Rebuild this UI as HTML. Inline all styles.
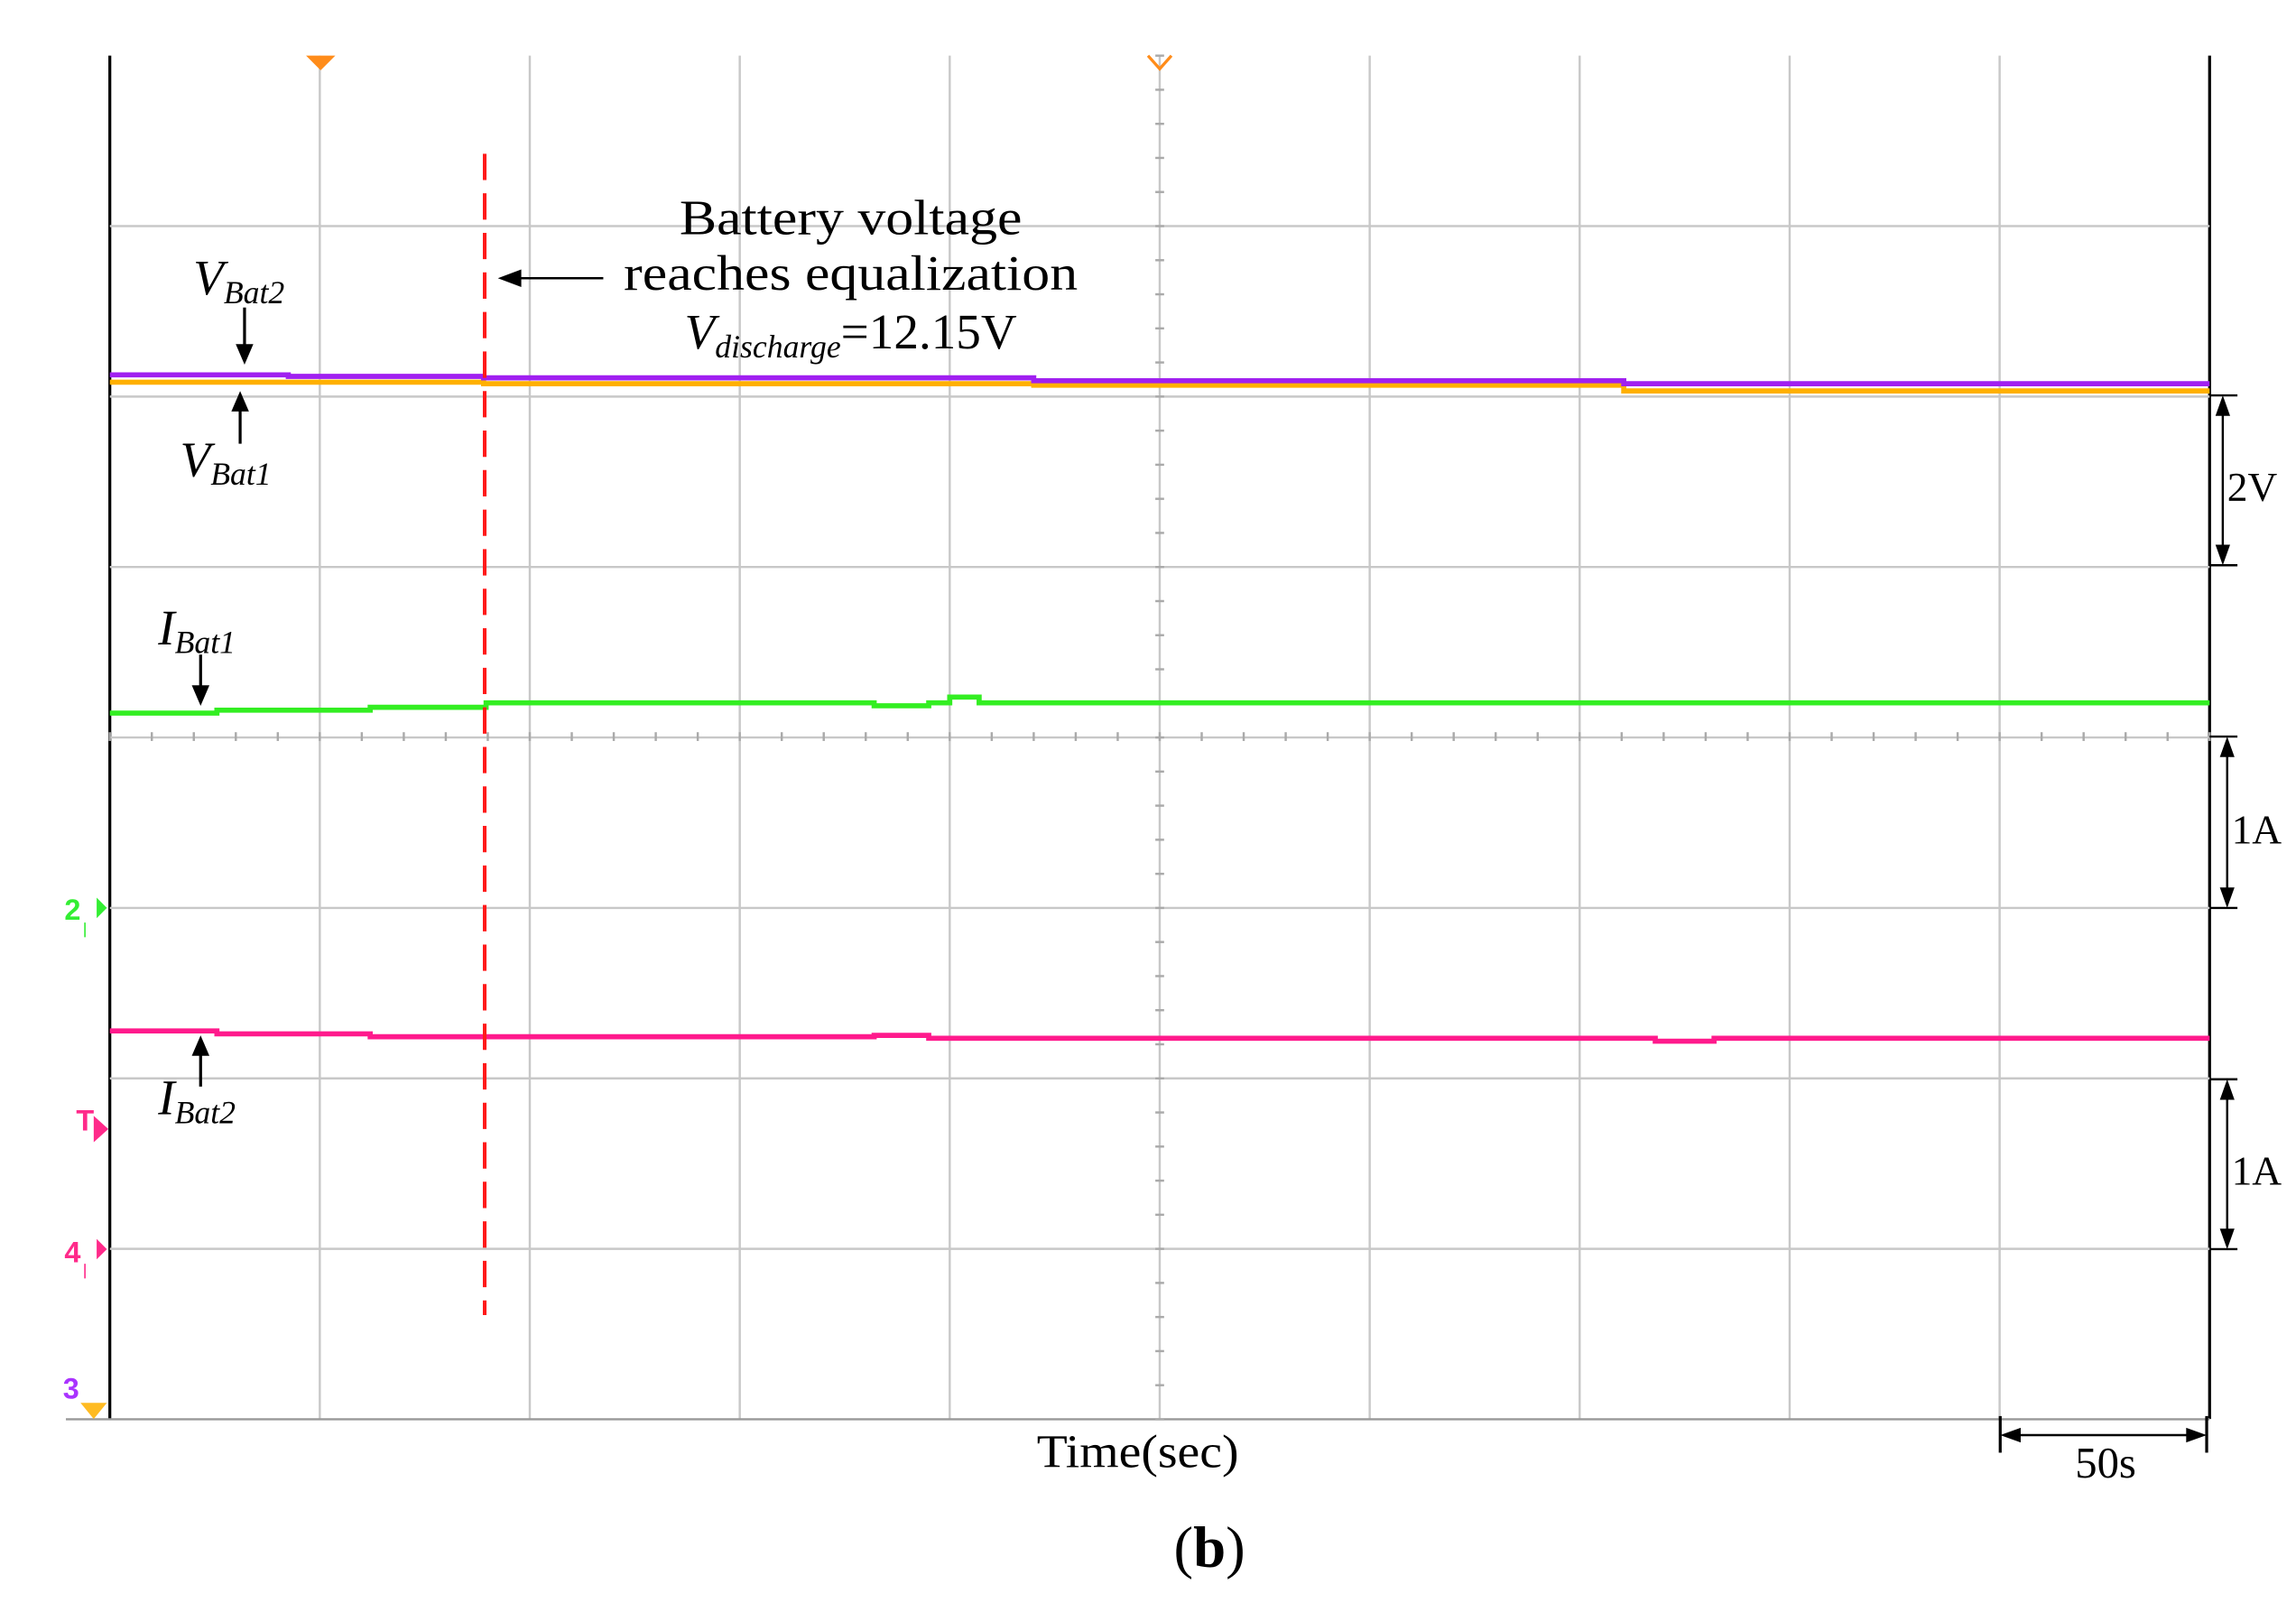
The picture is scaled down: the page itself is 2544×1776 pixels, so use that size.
<!DOCTYPE html>
<html><head><meta charset="utf-8"><style>
html,body{margin:0;padding:0;background:#fff}
svg{display:block;font-family:"Liberation Serif",serif}
</style></head><body>
<svg id="chart" width="2544" height="1776" viewBox="0 0 1568 1094.65" preserveAspectRatio="none" xmlns="http://www.w3.org/2000/svg">
<g id="grid"></g>
<g id="traces"></g>
<line x1="331" y1="105" x2="331" y2="898" stroke="#ff1a1a" stroke-width="2.5" stroke-dasharray="18,9"/>
<g font-size="34" text-anchor="middle" fill="#000">
<text x="581" y="160" textLength="234" lengthAdjust="spacingAndGlyphs">Battery voltage</text>
<text x="581" y="198" textLength="310" lengthAdjust="spacingAndGlyphs">reaches equalization</text>
<text x="581" y="238"><tspan font-style="italic">V</tspan><tspan font-style="italic" font-size="22" dy="6">discharge</tspan><tspan dy="-6">=12.15V</tspan></text>
<line x1="412" y1="190" x2="352" y2="190" stroke="#000" stroke-width="1.5"/>
<polygon points="340,190 356,184 356,196" fill="#000"/>
</g>
<g font-style="italic" fill="#000">
<text x="132" y="201" font-size="34">V<tspan font-size="22" dy="6">Bat2</tspan></text>
<line x1="167" y1="210" x2="167" y2="238" stroke="#000" stroke-width="2"/><polygon points="167,249 161,235 173,235"/>
<text x="123" y="325" font-size="34">V<tspan font-size="22" dy="6">Bat1</tspan></text>
<line x1="164" y1="303" x2="164" y2="278" stroke="#000" stroke-width="2"/><polygon points="164,267 158,281 170,281"/>
<text x="108" y="440" font-size="34">I<tspan font-size="22" dy="6">Bat1</tspan></text>
<line x1="137" y1="447" x2="137" y2="471" stroke="#000" stroke-width="2"/><polygon points="137,482 131,468 143,468"/>
<text x="108" y="761" font-size="34">I<tspan font-size="22" dy="6">Bat2</tspan></text>
<line x1="137" y1="742" x2="137" y2="718" stroke="#000" stroke-width="2"/><polygon points="137,707 131,721 143,721"/>
</g>
<g fill="#000" font-size="28">
<line x1="1509" y1="270" x2="1528" y2="270" stroke="#000" stroke-width="1.5"/><line x1="1509" y1="386" x2="1528" y2="386" stroke="#000" stroke-width="1.5"/>
<line x1="1518" y1="278" x2="1518" y2="378" stroke="#000" stroke-width="1.5"/><polygon points="1518,270 1513,284 1523,284"/><polygon points="1518,386 1513,372 1523,372"/>
<text x="1521" y="342">2V</text>
<line x1="1509" y1="503" x2="1528" y2="503" stroke="#000" stroke-width="1.5"/><line x1="1509" y1="620" x2="1528" y2="620" stroke="#000" stroke-width="1.5"/>
<line x1="1521" y1="511" x2="1521" y2="612" stroke="#000" stroke-width="1.5"/><polygon points="1521,503 1516,517 1526,517"/><polygon points="1521,620 1516,606 1526,606"/>
<text x="1524" y="576">1A</text>
<line x1="1509" y1="737" x2="1528" y2="737" stroke="#000" stroke-width="1.5"/><line x1="1509" y1="853" x2="1528" y2="853" stroke="#000" stroke-width="1.5"/>
<line x1="1521" y1="745" x2="1521" y2="845" stroke="#000" stroke-width="1.5"/><polygon points="1521,737 1516,751 1526,751"/><polygon points="1521,853 1516,839 1526,839"/>
<text x="1524" y="809">1A</text>
<line x1="1366" y1="967" x2="1366" y2="992" stroke="#000" stroke-width="2"/><line x1="1507" y1="967" x2="1507" y2="992" stroke="#000" stroke-width="2"/>
<line x1="1374" y1="980" x2="1499" y2="980" stroke="#000" stroke-width="1.5"/><polygon points="1366,980 1380,975 1380,985"/><polygon points="1507,980 1493,975 1493,985"/>
<text x="1438" y="1009" text-anchor="middle" font-size="30">50s</text>
</g>
<text x="777" y="1002" text-anchor="middle" font-size="32" textLength="138" lengthAdjust="spacingAndGlyphs">Time(sec)</text>
<text x="826" y="1070" text-anchor="middle" font-size="40">(<tspan font-weight="bold">b</tspan>)</text>
<g font-family="Liberation Sans,sans-serif" font-weight="bold" font-size="20">
<polygon points="209,38 229,38 219,48" fill="#ff8c1a"/>
<polyline points="784,38 792,47 800,38" fill="none" stroke="#ff8c1a" stroke-width="2"/>
<text x="44" y="628" fill="#33ee33">2</text><polygon points="66,613 73,620 66,627" fill="#33ee33"/><line x1="58" y1="630" x2="58" y2="640" stroke="#33ee33"/>
<text x="52" y="772" fill="#ff2a8a">T</text><polygon points="64,762 74,771 64,780" fill="#ff2a8a"/>
<text x="44" y="862" fill="#ff2a8a">4</text><polygon points="66,846 73,853 66,860" fill="#ff2a8a"/><line x1="58" y1="863" x2="58" y2="873" stroke="#ff2a8a"/>
<text x="43" y="955" fill="#aa33ff">3</text><polygon points="55,958 73,958 64,969" fill="#ffbb22"/>
</g>
</svg>
<script>
const timeTicks=[0,50,100,150,200,250,300,350,400,450,500];
const vBat2T=[0,42.5,89,220,360.5,500];
const vBat2V=[12.241,12.223,12.206,12.172,12.137];
const vBat1T=[0,89,220,360.5,500];
const vBat1V=[12.155,12.137,12.12,12.052];
const iBat1T=[0,25.5,62,89.6,182,195,200,207,500];
const iBat1V=[1.143,1.16,1.177,1.203,1.186,1.203,1.237,1.203];
const iBat2T=[0,25.5,62,182,195,368,382,500];
const iBat2V=[1.28,1.263,1.246,1.254,1.237,1.22,1.237];
const X0=75,X1=1509,TOP=38,DIV=116.4;
const xs=t=>X0+t*(X1-X0)/500;
const yV=v=>270-(v-12)*(DIV/2);
const yI1=a=>620-a*DIV;
const yI2=a=>853-a*DIV;
const NS="http://www.w3.org/2000/svg";
const grid=document.getElementById('grid'),tr=document.getElementById('traces');
function mk(tag,attrs,parent){const e=document.createElementNS(NS,tag);for(const k in attrs)e.setAttribute(k,attrs[k]);parent.appendChild(e);return e;}
timeTicks.forEach((t,i)=>{
 const edge=(i==0||i==10);
 const l=mk('line',{x1:xs(t),y1:TOP,x2:xs(t),y2:969,stroke:edge?'#000':'#c8c8c8','stroke-width':edge?2:1.5},grid);
 
 
});
for(let k=1;k<=8;k++){const y=TOP+k*DIV;
 const l=mk('line',{x1:k==8?45:75,y1:y,x2:1509,y2:y,stroke:k==8?'#999':'#c8c8c8','stroke-width':1.5},grid);
 
 
}
for(let k=0;k<=50;k++){const x=X0+k*(X1-X0)/50;mk('line',{x1:x,y1:500,x2:x,y2:506,stroke:'#aaa','stroke-width':1.5},grid);}
for(let k=0;k<=40;k++){const y=TOP+k*DIV/5;mk('line',{x1:789,y1:y,x2:795,y2:y,stroke:'#aaa','stroke-width':1.5},grid);}
function step(T,V,fy,color,name){let d='';for(let i=0;i<V.length;i++){const y=fy(V[i]);d+=(i?'L':'M')+xs(T[i])+','+y+'L'+xs(T[i+1])+','+y;}
 const p=mk('path',{d:d,fill:'none',stroke:color,'stroke-width':3.5},tr);
 
 
}
step(vBat1T,vBat1V,yV,'#ffb000','vbat1-trace');
step(vBat2T,vBat2V,yV,'#a020f0','vbat2-trace');
step(iBat1T,iBat1V,yI1,'#33ee22','ibat1-trace');
step(iBat2T,iBat2V,yI2,'#ff1a8c','ibat2-trace');
</script>
</body></html>
